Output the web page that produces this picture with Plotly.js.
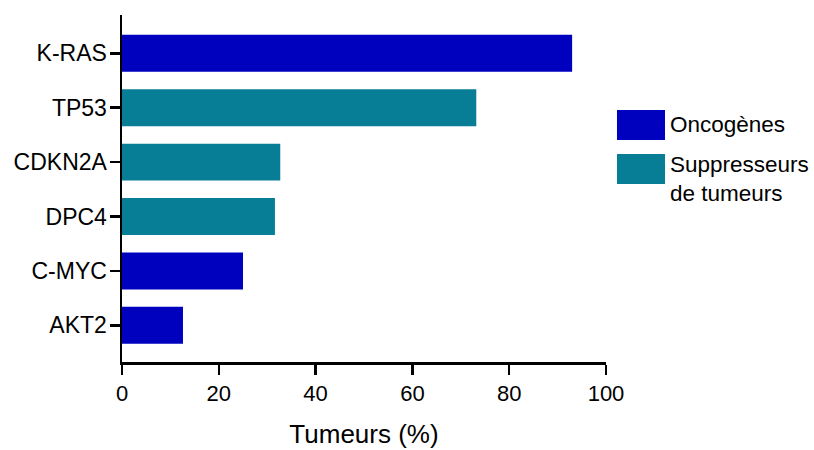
<!DOCTYPE html>
<html>
<head>
<meta charset="utf-8">
<script src="https://cdn.plot.ly/plotly-3.0.1.min.js"></script>
<style>html,body{margin:0;padding:0;background:#fff;}#chart{width:814px;height:450px;}</style>
</head>
<body>
<div id="chart"></div>
<script>
// Data (top-to-bottom order as shown)
const genes = ["K-RAS", "TP53", "CDKN2A", "DPC4", "C-MYC", "AKT2"];
const values = [93, 73.2, 32.7, 31.6, 25, 12.6];
const geneTypes = ["onco", "supp", "supp", "supp", "onco", "onco"];
const seriesNames = {onco: "Oncogènes", supp: "Suppresseurs<br>de tumeurs"};
const seriesColors = {onco: "#0000BF", supp: "#077E95"};
const xTicks = [0, 20, 40, 60, 80, 100];

const FONT = "Liberation Sans, Arial, Helvetica, sans-serif";
const INK = "#000";

function traceFor(type) {
  const ys = [], xs = [];
  genes.forEach((g, i) => { if (geneTypes[i] === type) { ys.push(g); xs.push(values[i]); } });
  return {
    type: "bar", orientation: "h", x: xs, y: ys, name: seriesNames[type],
    width: 0.68, marker: {color: seriesColors[type], line: {width: 0}},
    hoverinfo: "x+y", showlegend: false
  };
}

const order = genes.slice().reverse();

const legendItems = ["onco", "supp"];
const shapes = [], annotations = [];
const boxY = [[0.6398, 0.7262], [0.513, 0.5994]];
const textY = [0.683, 0.5288];
legendItems.forEach((t, i) => {
  shapes.push({type: "rect", xref: "paper", yref: "paper", x0: 1.0227, x1: 1.1219,
    y0: boxY[i][0], y1: boxY[i][1], fillcolor: seriesColors[t], line: {width: 0}});
  annotations.push({xref: "paper", yref: "paper", x: 1.129, y: textY[i], xanchor: "left",
    yanchor: "middle", align: "left", showarrow: false, text: seriesNames[t],
    font: {family: FONT, size: 22.5, color: INK}});
});

const layout = {
  width: 814, height: 450,
  margin: {l: 122, r: 208, t: 15, b: 88, pad: 0},
  paper_bgcolor: "#fff", plot_bgcolor: "#fff",
  barmode: "overlay",
  font: {family: FONT, size: 22, color: INK},
  xaxis: {
    range: [0, 100], tickvals: xTicks, ticktext: xTicks.map(String),
    showgrid: false, zeroline: false, showline: true, linecolor: INK, linewidth: 2.5,
    ticks: "outside", ticklen: 10, tickwidth: 2.5, tickcolor: INK,
    tickfont: {family: FONT, size: 22, color: INK},
    title: {text: "Tumeurs (%)", font: {family: FONT, size: 26, color: INK}, standoff: 20},
    fixedrange: true
  },
  yaxis: {
    type: "category", categoryorder: "array", categoryarray: order,
    range: [-0.675, 5.705],
    showgrid: false, zeroline: false, showline: true, linecolor: INK, linewidth: 2.5,
    ticks: "outside", ticklen: 10, tickwidth: 2.5, tickcolor: INK,
    tickfont: {family: FONT, size: 23, color: INK},
    ticklabelstandoff: -2,
    fixedrange: true
  },
  shapes: shapes, annotations: annotations, showlegend: false
};

Plotly.newPlot("chart", [traceFor("onco"), traceFor("supp")], layout, {displayModeBar: false, staticPlot: true});
</script>
</body>
</html>
